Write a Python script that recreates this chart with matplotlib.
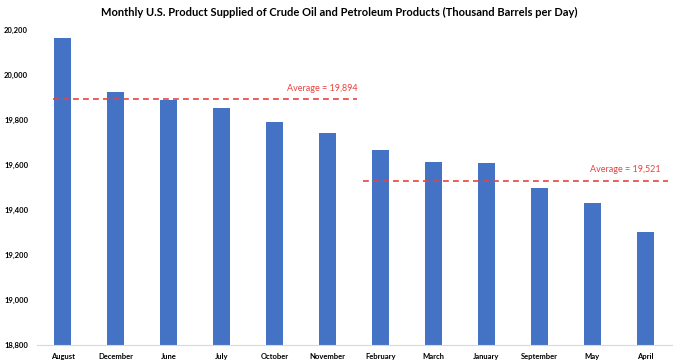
import numpy as np
import matplotlib
matplotlib.use('Agg')
import matplotlib.pyplot as plt
from matplotlib.ticker import FuncFormatter

# months sorted by product supplied (thousand barrels per day)
months = ['August', 'December', 'June', 'July', 'October', 'November',
          'February', 'March', 'January', 'September', 'May', 'April']
supplied = [20165, 19925, 19888, 19853, 19792, 19744,
            19665, 19615, 19610, 19500, 19432, 19302]

avg_high = 19894
avg_low = 19521

plt.rcParams['font.family'] = ['Lato', 'DejaVu Sans']

fig = plt.figure(figsize=(6.79, 3.64), dpi=100)
ax = fig.add_axes([36.5 / 679, 19 / 364, 635 / 679, 315 / 364])

x = np.arange(len(months))
ax.bar(x, supplied, width=0.32, color='#4472C4', zorder=2)

# average lines for the top six and bottom six months
red = '#E8433E'
ax.plot([-0.18, 5.56], [avg_high, avg_high], ls=(0, (3.5, 2.5)), color=red, lw=1.2, zorder=3)
ax.plot([5.67, 11.43], [avg_low + 10, avg_low + 10], ls=(0, (3.5, 2.5)), color=red, lw=1.2, zorder=3)
ax.text(5.56, avg_high + 25, 'Average = 19,894', color=red, fontsize=6.5,
        ha='right', va='bottom')
ax.text(11.3, avg_low + 40, 'Average = 19,521', color=red, fontsize=6.5,
        ha='right', va='bottom')

ax.set_xlim(-0.5, len(months) - 0.5)
ax.set_ylim(18800, 20200)
ax.set_yticks(np.arange(18800, 20201, 200))
ax.yaxis.set_major_formatter(FuncFormatter(lambda v, p: f'{int(v):,}'))
ax.set_xticks(x)
ax.set_xticklabels(months)

for side in ['top', 'right', 'left']:
    ax.spines[side].set_visible(False)
ax.spines['bottom'].set_color('#D9D9D9')
ax.tick_params(axis='both', length=0, labelsize=5.5, colors='black')
ax.tick_params(axis='x', pad=6)
ax.tick_params(axis='y', pad=6)
for lab in ax.get_xticklabels() + ax.get_yticklabels():
    lab.set_fontweight('bold')

fig.suptitle('Monthly U.S. Product Supplied of Crude Oil and Petroleum Products (Thousand Barrels per Day)',
             fontsize=8, fontweight='bold', x=0.5, y=0.98)

fig.savefig('out.png', dpi=100, facecolor='white')
